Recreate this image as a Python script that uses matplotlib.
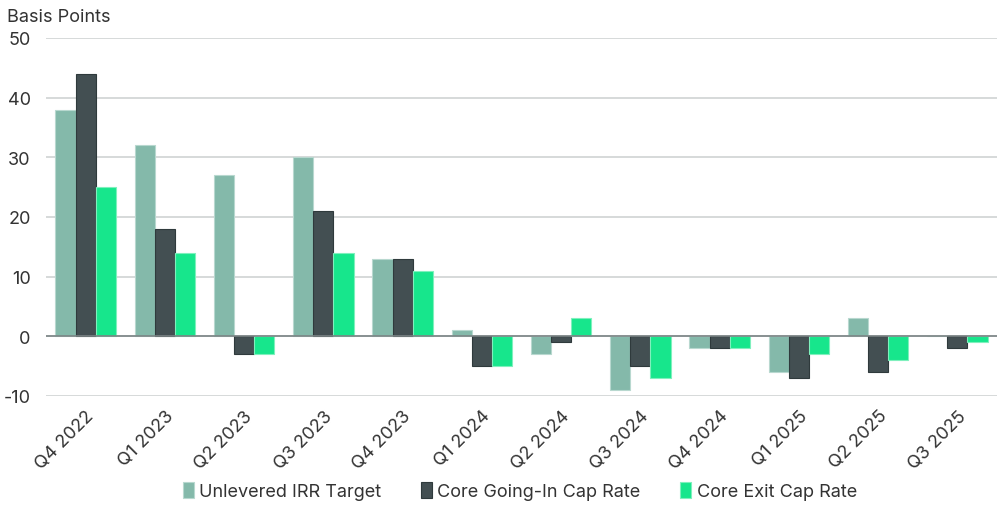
import numpy as np
import matplotlib.pyplot as plt

plt.rcParams['font.family'] = ['Inter', 'DejaVu Sans']
plt.rcParams['axes.unicode_minus'] = False

quarters = ["Q4 2022", "Q1 2023", "Q2 2023", "Q3 2023", "Q4 2023", "Q1 2024",
            "Q2 2024", "Q3 2024", "Q4 2024", "Q1 2025", "Q2 2025", "Q3 2025"]
irr_target = [38, 32, 27, 30, 13, 1, -3, -9, -2, -6, 3, 0]
going_in = [44, 18, -3, 21, 13, -5, -1, -5, -2, -7, -6, -2]
exit_cap = [25, 14, -3, 14, 11, -5, 3, -7, -2, -3, -4, -1]

series = [
    ("Unlevered IRR Target", irr_target, "#84b9aa", "#b8d8cf"),
    ("Core Going-In Cap Rate", going_in, "#434f52", "#2f3a3c"),
    ("Core Exit Cap Rate", exit_cap, "#17e68c", "#7ff0bd"),
]

fig = plt.figure(figsize=(10, 5.1), dpi=100)
ax = fig.add_axes([0.046, 0.2216, 0.951, 0.702])

x = np.arange(len(quarters))
w = 0.255
for i, (name, vals, col, edge) in enumerate(series):
    ax.bar(x + (i - 1) * w, vals, w, color=col, edgecolor=edge, linewidth=0.8,
           label=name, zorder=3)

ax.set_ylim(-10, 50)
ax.set_xlim(-0.5, 11.5)
ax.set_yticks(range(-10, 51, 10))
ax.yaxis.grid(True, color="#cfd3d3", linewidth=1.2, zorder=0)
ax.axhline(0, color="#7b8485", linewidth=1.2, zorder=4)
for s in ax.spines.values():
    s.set_visible(False)
ax.tick_params(axis="both", length=0, labelsize=13, colors="#333333")
ax.tick_params(axis="y", pad=11)
ax.set_xticks(x)
ax.set_xticklabels(quarters, rotation=45, ha="right", rotation_mode="anchor")
ax.tick_params(axis="x", pad=8)

fig.text(0.007, 0.966, "Basis Points", fontsize=13, color="#333333", va="center")

fig.legend(loc="center", bbox_to_anchor=(0.52, 0.035), ncol=3, frameon=False,
           fontsize=13, handlelength=0.6, handleheight=1.0, handletextpad=0.3,
           columnspacing=2.2, labelcolor="#333333")

fig.savefig("out.png", dpi=100)
